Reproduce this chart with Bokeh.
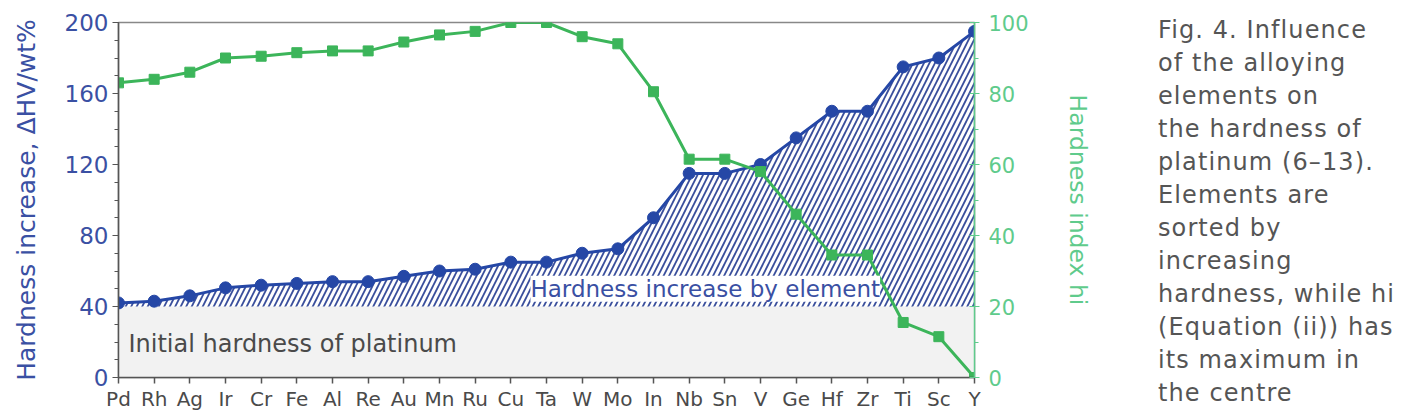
from bokeh.plotting import figure
from bokeh.models import (Range1d, LinearAxis, FixedTicker, SingleIntervalTicker,
                          BoxAnnotation, Label, Div)
from bokeh.layouts import row
from bokeh.embed import file_html
from bokeh.resources import INLINE

# Alloying elements, sorted by increasing hardness
elements = ["Pd", "Rh", "Ag", "Ir", "Cr", "Fe", "Al", "Re", "Au", "Mn", "Ru", "Cu", "Ta",
            "W", "Mo", "In", "Nb", "Sn", "V", "Ge", "Hf", "Zr", "Ti", "Sc", "Y"]
# Hardness increase, ΔHV/wt%
hardness = [42, 43, 46, 50.5, 52, 53, 54, 54, 57, 60, 61, 65, 65,
            70, 72.5, 90, 115, 115, 120, 135, 150, 150, 175, 180, 195]
# Hardness index hi
hi = [83, 84, 86, 90, 90.5, 91.5, 92, 92, 94.5, 96.5, 97.5, 100, 100,
      96, 94, 80.5, 61.5, 61.5, 58, 46, 34.5, 34.5, 15.5, 11.5, 0]
pt_base = 40  # initial hardness of platinum

caption_lines = ["Fig. 4. Influence", "of the alloying", "elements on",
                 "the hardness of", "platinum (6–13).", "Elements are", "sorted by",
                 "increasing", "hardness, while hi", "(Equation (ii)) has",
                 "its maximum in", "the centre"]

BLUE = "#2547a6"
BLUE_TXT = "#3a50a3"
HATCH = "#3a4f9c"
GREEN = "#3cb55a"
GREEN_TXT = "#5fcb8c"
GRAY_TXT = "#4a4a4a"
FONT = "DejaVu Sans"

xs = list(range(len(elements)))

p = figure(width=1140, height=419, output_backend="svg", toolbar_location=None,
           x_range=Range1d(0, len(elements) - 1), y_range=Range1d(0, 200),
           min_border_left=118, min_border_right=166, min_border_top=22,
           min_border_bottom=42)
p.grid.visible = False
p.outline_line_color = "#888888"
p.outline_line_width = 1.5
p.background_fill_color = "white"
p.border_fill_color = "white"

# shaded band for the base hardness of pure platinum
p.add_layout(BoxAnnotation(bottom=0, top=pt_base, fill_color="#f2f2f2", fill_alpha=1,
                           line_color=None, level="underlay"))

# hatched area above the base hardness
p.varea(x=xs, y1=[pt_base] * len(xs), y2=hardness, fill_alpha=0,
        hatch_pattern="/", hatch_color=HATCH, hatch_scale=11, hatch_weight=1.8)

p.add_layout(Label(x=11.55, y=50, text="Hardness increase by element", text_font=FONT,
                   text_font_size="23px", text_color=BLUE_TXT, text_baseline="middle",
                   background_fill_color="white", background_fill_alpha=1))
p.add_layout(Label(x=0.28, y=19, text="Initial hardness of platinum", text_font=FONT,
                   text_font_size="24px", text_color=GRAY_TXT, text_baseline="middle"))

# hardness increase curve
p.line(xs, hardness, line_color=BLUE, line_width=3)
p.scatter(xs, hardness, marker="circle", size=12, fill_color=BLUE, line_color=BLUE)

# hardness index on secondary axis
p.extra_y_ranges = {"hi": Range1d(0, 100)}
p.line(xs, hi, line_color=GREEN, line_width=3, y_range_name="hi")
p.scatter(xs, hi, marker="square", size=10, fill_color=GREEN, line_color=GREEN,
          y_range_name="hi")

# x axis
xa = p.xaxis[0]
xa.ticker = FixedTicker(ticks=xs)
xa.major_label_overrides = {i: e for i, e in enumerate(elements)}
xa.major_label_text_font = FONT
xa.major_label_text_font_size = "20px"
xa.major_label_text_color = GRAY_TXT
xa.axis_line_color = "#555555"
xa.axis_line_width = 1.5
xa.major_tick_line_color = "#555555"
xa.major_tick_line_width = 1.5
xa.major_tick_in = 0
xa.major_tick_out = 6
xa.minor_tick_line_color = None
xa.major_label_standoff = 3

# left axis
ya = p.yaxis[0]
ya.ticker = SingleIntervalTicker(interval=40, num_minor_ticks=4)
ya.axis_label = "Hardness increase, ΔHV/wt%"
ya.axis_label_text_font = FONT
ya.axis_label_text_font_style = "normal"
ya.axis_label_text_font_size = "25px"
ya.axis_label_text_color = BLUE_TXT
ya.axis_label_standoff = 21
ya.major_label_text_font = FONT
ya.major_label_text_font_size = "23px"
ya.major_label_text_color = BLUE_TXT
ya.axis_line_color = "#555555"
ya.axis_line_width = 1.5
ya.major_tick_line_color = "#555555"
ya.minor_tick_line_color = "#555555"
ya.major_tick_in = 0
ya.major_tick_out = 6
ya.minor_tick_in = 0
ya.minor_tick_out = 4
ya.major_label_standoff = 4

# right axis
ra = LinearAxis(y_range_name="hi", ticker=SingleIntervalTicker(interval=20, num_minor_ticks=2))
ra.axis_label = "Hardness index hi"
ra.axis_label_text_font = FONT
ra.axis_label_text_font_style = "normal"
ra.axis_label_text_font_size = "23.5px"
ra.axis_label_text_color = GREEN_TXT
ra.axis_label_standoff = 32
ra.major_label_text_font = FONT
ra.major_label_text_font_size = "21px"
ra.major_label_text_color = GREEN_TXT
ra.axis_line_color = GREEN_TXT
ra.axis_line_width = 1.5
ra.major_tick_line_color = GREEN_TXT
ra.minor_tick_line_color = GREEN_TXT
ra.major_tick_in = 5
ra.major_tick_out = 5
ra.minor_tick_in = 0
ra.minor_tick_out = 4
ra.major_label_standoff = 9
p.add_layout(ra, "right")

caption = Div(text="<br>".join(caption_lines), width=262, height=400,
              margin=(14, 0, 0, 18),
              styles={"font-family": FONT, "font-size": "24px", "line-height": "33px",
                      "letter-spacing": "1.1px", "color": "#555555",
                      "white-space": "nowrap"})

layout = row(p, caption)
open("out.html", "w").write(file_html(layout, INLINE))
